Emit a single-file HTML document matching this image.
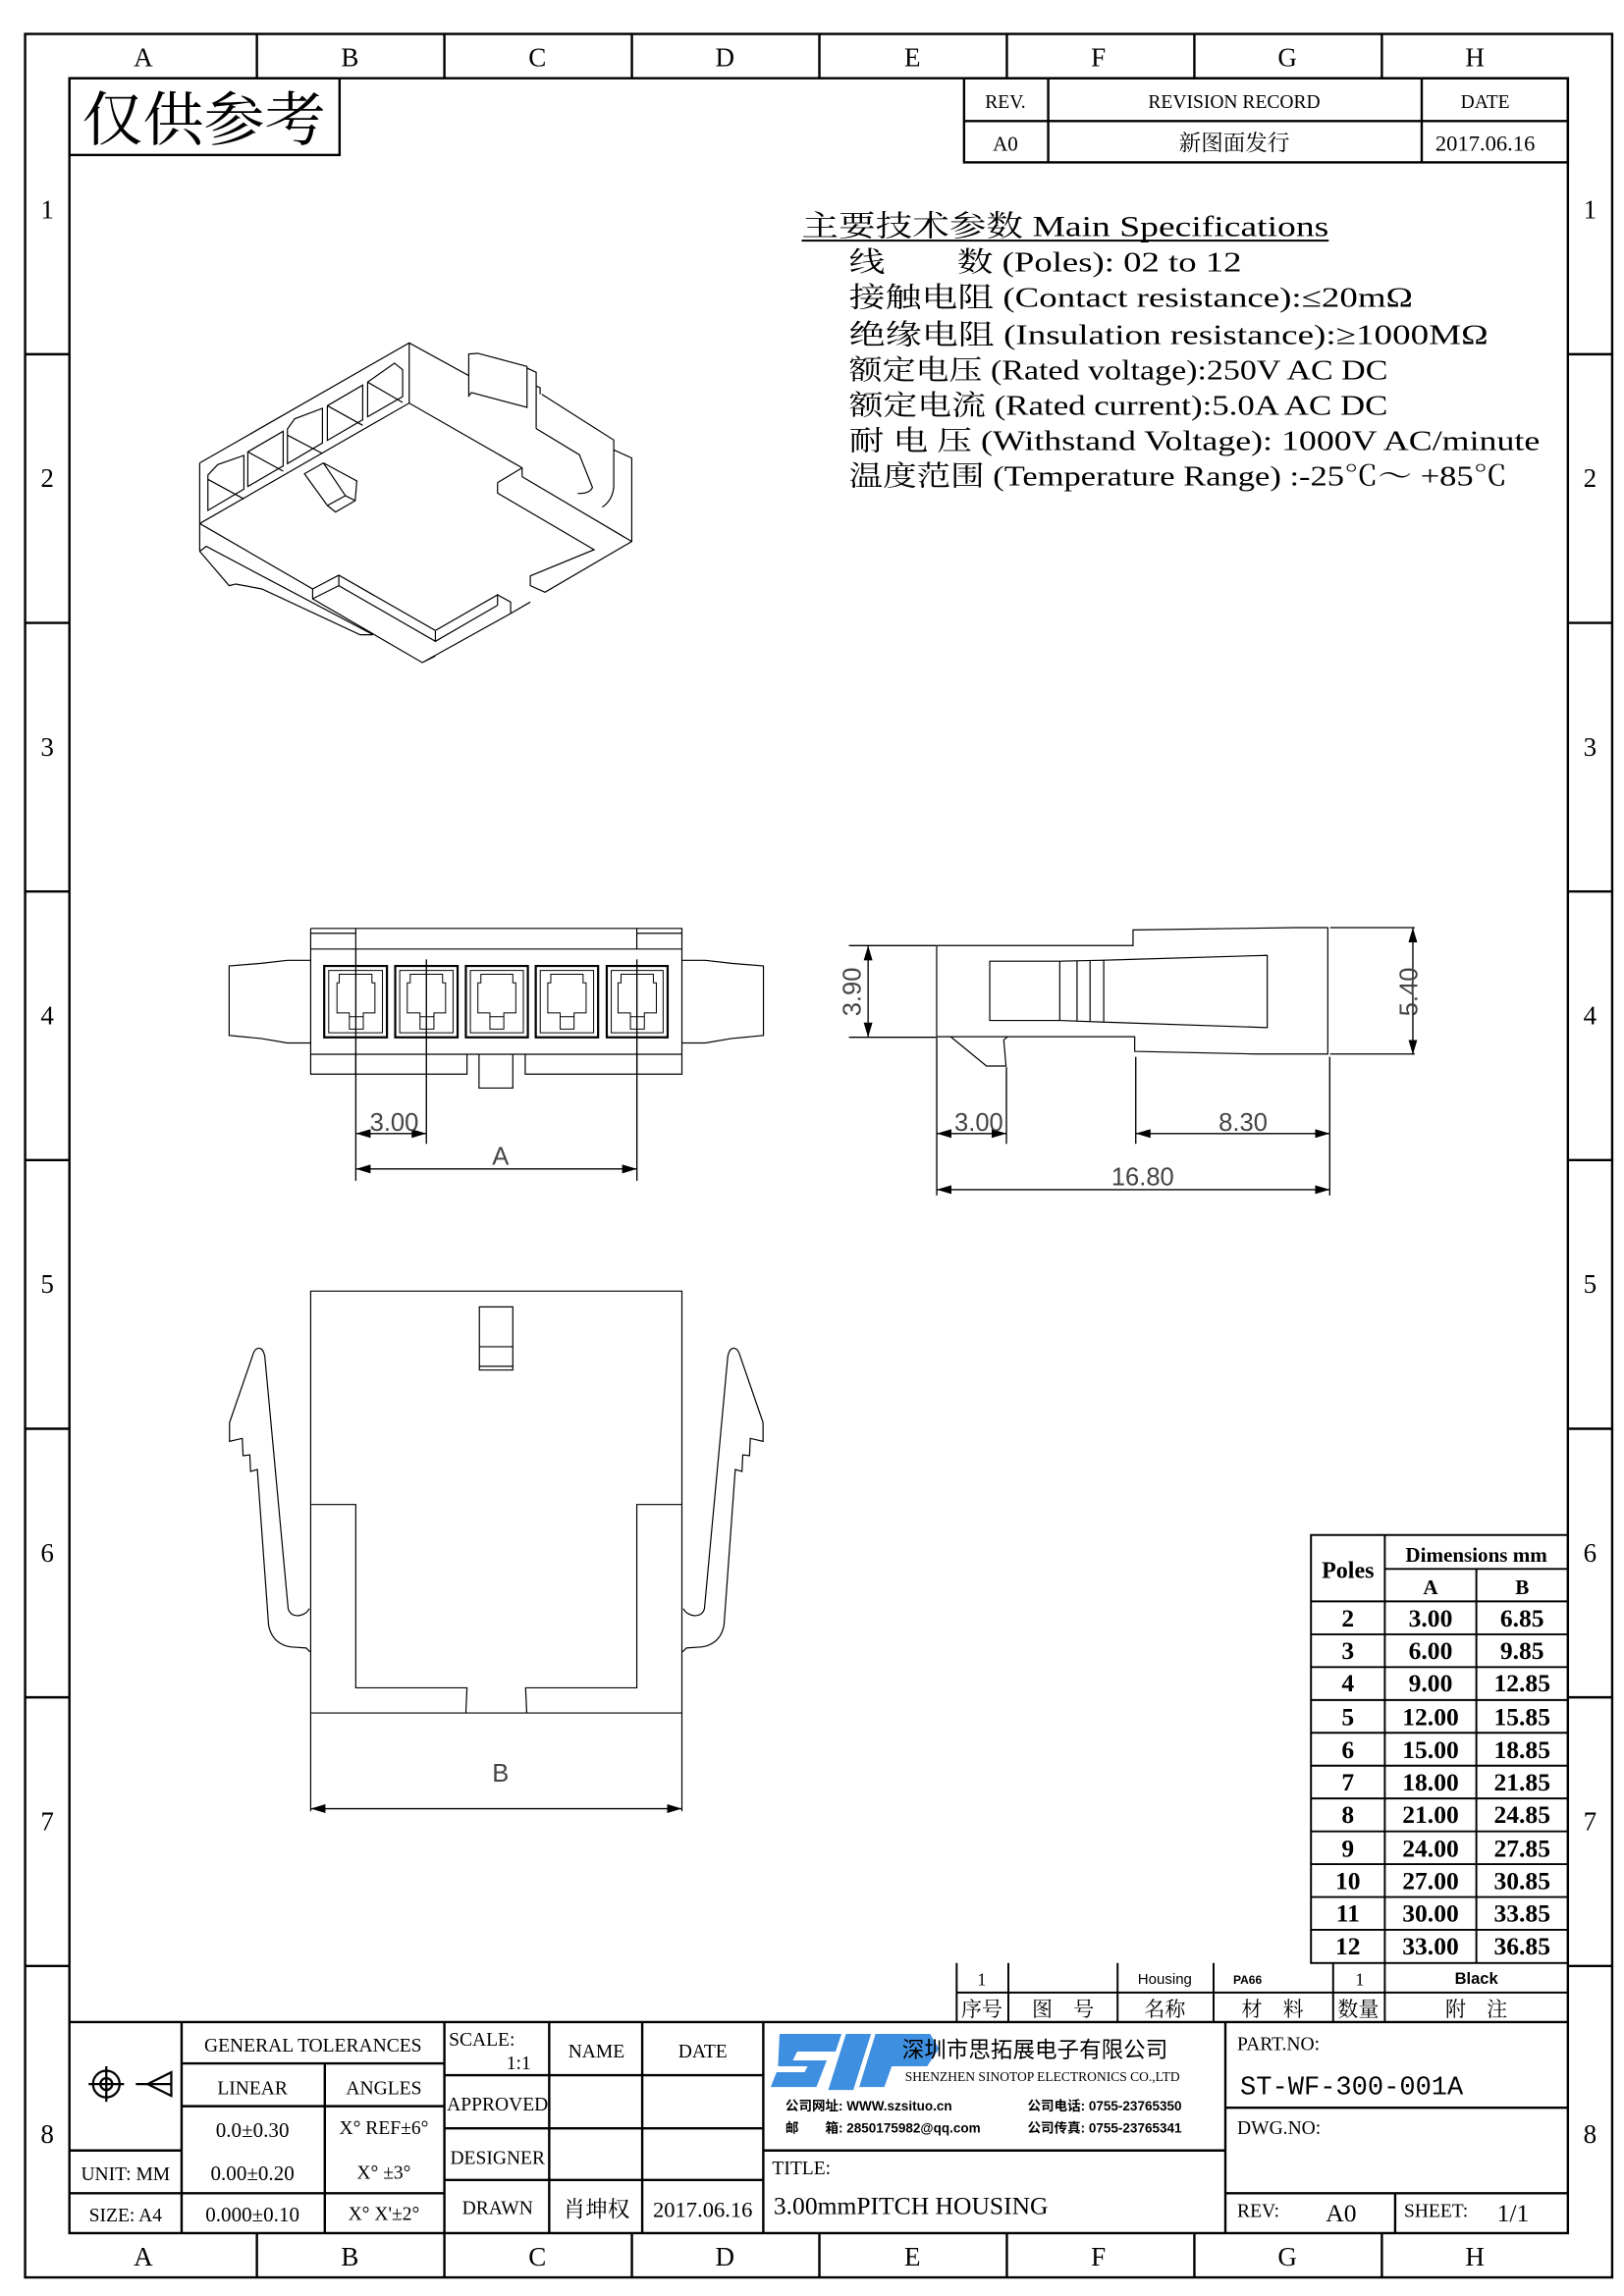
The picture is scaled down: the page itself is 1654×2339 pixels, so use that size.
<!DOCTYPE html>
<html><head><meta charset="utf-8"><style>
html,body{margin:0;padding:0;background:#fff}
svg{display:block}
text{font-family:"Liberation Serif","Noto Serif CJK SC","Noto Sans CJK SC",serif;fill:#000}
.s{font-family:"Liberation Sans","Noto Sans CJK SC",sans-serif}
.m{font-family:"Liberation Mono","Noto Sans CJK SC",monospace}
.d{font-family:"Liberation Sans",sans-serif;fill:#444;font-size:17px}
</style></head><body>
<svg xmlns="http://www.w3.org/2000/svg" width="1654" height="2339" viewBox="0 0 1100 1555.6">
<defs>
<marker id="ae" viewBox="0 0 10 6" refX="10" refY="3" markerWidth="10" markerHeight="6" markerUnits="userSpaceOnUse" orient="auto"><path d="M0,0 L10,3 L0,6 Z" fill="#000"/></marker>
<marker id="as" viewBox="0 0 10 6" refX="0" refY="3" markerWidth="10" markerHeight="6" markerUnits="userSpaceOnUse" orient="auto"><path d="M10,0 L0,3 L10,6 Z" fill="#000"/></marker>
</defs>
<rect width="1100" height="1556" fill="#fff"/>
<g fill="none" stroke="#000" stroke-width="1.6">
<rect x="17" y="23" width="1075" height="1520"/>
<rect x="47" y="53" width="1015" height="1460"/>
<path d="M174,23V53M301,23V53M428,23V53M555,23V53M682,23V53M809,23V53M936,23V53
M174,1513V1543M301,1513V1543M428,1513V1543M555,1513V1543M682,1513V1543M809,1513V1543M936,1513V1543
M17,240H47M17,422H47M17,604H47M17,786H47M17,968H47M17,1150H47M17,1332H47
M1062,240H1092M1062,422H1092M1062,604H1092M1062,786H1092M1062,968H1092M1062,1150H1092M1062,1332H1092"/>
<rect x="47" y="53" width="183" height="52"/>
<rect x="653" y="53" width="409" height="57"/>
<path d="M653,82H1062M710,53V110M963,53V110"/>
</g>
<g class="s" font-size="18" text-anchor="middle">
<text x="97" y="45">A</text><text x="237" y="45">B</text><text x="364" y="45">C</text><text x="491" y="45">D</text><text x="618" y="45">E</text><text x="744" y="45">F</text><text x="872" y="45">G</text><text x="999" y="45">H</text>
<text x="97" y="1535">A</text><text x="237" y="1535">B</text><text x="364" y="1535">C</text><text x="491" y="1535">D</text><text x="618" y="1535">E</text><text x="744" y="1535">F</text><text x="872" y="1535">G</text><text x="999" y="1535">H</text>
<text x="32" y="148">1</text><text x="32" y="330">2</text><text x="32" y="512">3</text><text x="32" y="694">4</text><text x="32" y="876">5</text><text x="32" y="1058">6</text><text x="32" y="1240">7</text><text x="32" y="1452">8</text>
<text x="1077" y="148">1</text><text x="1077" y="330">2</text><text x="1077" y="512">3</text><text x="1077" y="694">4</text><text x="1077" y="876">5</text><text x="1077" y="1058">6</text><text x="1077" y="1240">7</text><text x="1077" y="1452">8</text>
</g>
<text x="138" y="95" font-size="40" text-anchor="middle" textLength="165" lengthAdjust="spacingAndGlyphs">仅供参考</text>
<g font-size="13" text-anchor="middle">
<text x="681" y="73">REV.</text><text x="836" y="73">REVISION RECORD</text><text x="1006" y="73">DATE</text>
<text x="681" y="102" font-size="14">A0</text><text x="836" y="102" font-size="15">新图面发行</text><text x="1006" y="102" font-size="15">2017.06.16</text>
</g>
<g font-size="19">
<text x="543" y="160" font-size="20" textLength="357" lengthAdjust="spacingAndGlyphs">主要技术参数 Main Specifications</text>
<line x1="543" y1="163" x2="900" y2="163" stroke="#000" stroke-width="1.3"/>
<text x="575" y="184" textLength="266" lengthAdjust="spacingAndGlyphs">线　　数 (Poles): 02 to 12</text>
<text x="575" y="208" textLength="382" lengthAdjust="spacingAndGlyphs">接触电阻 (Contact resistance):≤20mΩ</text>
<text x="575" y="233" textLength="433" lengthAdjust="spacingAndGlyphs">绝缘电阻 (Insulation resistance):≥1000MΩ</text>
<text x="575" y="257" textLength="365" lengthAdjust="spacingAndGlyphs">额定电压 (Rated voltage):250V AC DC</text>
<text x="575" y="281" textLength="365" lengthAdjust="spacingAndGlyphs">额定电流 (Rated current):5.0A AC DC</text>
<text x="575" y="305" textLength="468" lengthAdjust="spacingAndGlyphs">耐 电 压 (Withstand Voltage): 1000V AC/minute</text>
<text x="575" y="329" textLength="446" lengthAdjust="spacingAndGlyphs">温度范围 (Temperature Range) :-25℃～ +85℃</text>
</g>
<g transform="translate(126.4,226.1) scale(0.2217)" fill="none" stroke="#000">
<path vector-effect="non-scaling-stroke" stroke-width="1.2" d="M40,395 L680,28 L862,128 M680,28 V212 M40,395 V665 M40,580 L680,212 L1025,410 V437 M950,455 L1025,410 M950,455 V487 L1245,660 L1050,740 V770 L1095,790 L1360,635 V380 L1305,355 M1025,437 L1360,635
M1085,185 L1305,325 V470 Q1300,510 1270,530 M1068,290 L1200,370 L1240,470 Q1230,490 1195,488
M40,580 L385,780 V810 L720,1005 L990,855 V820 L950,798 L760,907 L465,738 L385,780 M465,738 V770 L760,940 V907 M760,940 L950,830 M990,820 L950,798 V830 M465,770 L385,810 M990,855 L1050,820 M720,1005 L760,985
M40,665 L60,650 L570,920 M40,665 L130,770 L150,765 L230,780 L530,920 L570,920"/>
<path vector-effect="non-scaling-stroke" stroke-width="1.2" d="M862,62 L890,60 L1040,100 V225 L870,180 L862,190 Z M1040,105 L1068,118 V290 M1068,160 L1080,165 V185"/>
<path vector-effect="non-scaling-stroke" stroke-width="1.2" d="M360,428 L418,395 L485,495 L430,525 Z M418,395 L520,450 L515,510 L455,545 L430,525 M485,495 L515,510"/>
<path vector-effect="non-scaling-stroke" stroke-width="1.2" d="M65,432 L95,400 L175,372 V475 L65,540 Z M65,445 L175,505
M187,361 L295,298 V404 L187,467 Z M187,361 L295,420
M308,291 L330,260 L415,228 V334 L308,397 Z M308,310 L415,366
M430,220 L538,157 V263 L430,326 Z M430,220 L538,280
M553,148 L635,90 L660,110 V192 L553,254 Z M553,148 L660,210"/>
</g>
<g transform="translate(146.3,625.2) scale(0.2545)" fill="none" stroke="#000">
<path vector-effect="non-scaling-stroke" stroke-width="1.2" d="M252,15 H1240 V403 H1120 M252,15 V403 H372 M252,70 H1240 M252,350 H1240 M372,15 V70 M1120,15 V70 M252,28 H372 M1120,28 H1240 M372,350 V403 H668 V350 M823,350 V403 H1120 V350 M700,350 V440 H790 V350
M252,100 H190 L120,108 L35,115 V300 L120,308 L190,320 H252 M1240,100 H1302 L1372,108 L1457,115 V300 L1372,308 L1302,320 H1240"/>
<g>
<rect x="288" y="115" width="167" height="190" stroke-width="2.2" vector-effect="non-scaling-stroke"/>
<rect x="477" y="115" width="166" height="190" stroke-width="2.2" vector-effect="non-scaling-stroke"/>
<rect x="665" y="115" width="165" height="190" stroke-width="2.2" vector-effect="non-scaling-stroke"/>
<rect x="851" y="115" width="166" height="190" stroke-width="2.2" vector-effect="non-scaling-stroke"/>
<rect x="1040" y="115" width="162" height="190" stroke-width="2.2" vector-effect="non-scaling-stroke"/>
</g>
<path vector-effect="non-scaling-stroke" stroke-width="1" d="
M300,127H443V293H300Z M328,137H415V160H423V240H392V283H355V240H322V160H328Z M355,250H392
M489,127H631V293H489Z M517,137H603V160H611V240H580V283H543V240H509V160H517Z M543,250H580
M677,127H818V293H677Z M705,137H790V160H798V240H766V283H729V240H697V160H705Z M729,250H766
M863,127H1005V293H863Z M891,137H977V160H985V240H953V283H916V240H883V160H891Z M916,250H953
M1052,127H1190V293H1052Z M1078,137H1164V160H1172V240H1140V283H1103V240H1070V160H1078Z M1103,250H1140"/>
</g>
<g fill="none" stroke="#000" stroke-width="0.9">
<path d="M241,643V800M288.8,650V775M431.4,650V800"/>
<line x1="241" y1="768" x2="288.8" y2="768" marker-start="url(#as)" marker-end="url(#ae)"/>
<line x1="241" y1="792" x2="431.4" y2="792" marker-start="url(#as)" marker-end="url(#ae)"/>
</g>
<text class="d" x="267" y="766" text-anchor="middle">3.00</text>
<text class="d" x="339" y="789" text-anchor="middle">A</text>
<g transform="translate(631.8,625.2) scale(0.2206)" fill="none" stroke="#000">
<path vector-effect="non-scaling-stroke" stroke-width="1.2" d="M12,70 H615 V22 L1110,15 H1213 V403 H990 L620,395 V350 H12 Z M175,118 H390 V300 H175 Z M390,118 L525,115 L1027,100 V322 L525,305 L390,300 M443,116 V303 M483,116 V304 M525,115 V305 M55,350 L165,440 H225 L218,360 L230,350 M1220,15 H1480 M1220,403 H1480"/>
</g>
<g fill="none" stroke="#000" stroke-width="0.9">
<path d="M634.5,703V810M681.7,723V775M769.3,716V775M900.7,716V810M575,640.7H634M575,702.8H634"/>
<line x1="588" y1="640.7" x2="588" y2="702.8" marker-start="url(#as)" marker-end="url(#ae)"/>
<line x1="957" y1="628.5" x2="957" y2="714.5" marker-start="url(#as)" marker-end="url(#ae)"/>
<line x1="634.5" y1="768" x2="681.7" y2="768" marker-start="url(#as)" marker-end="url(#ae)"/>
<line x1="769.3" y1="768" x2="900.7" y2="768" marker-start="url(#as)" marker-end="url(#ae)"/>
<line x1="634.5" y1="806" x2="900.7" y2="806" marker-start="url(#as)" marker-end="url(#ae)"/>
</g>
<text class="d" x="663" y="766" text-anchor="middle">3.00</text>
<text class="d" x="842" y="766" text-anchor="middle">8.30</text>
<text class="d" x="774" y="803" text-anchor="middle">16.80</text>
<text class="d" transform="translate(583,672) rotate(-90)" text-anchor="middle">3.90</text>
<text class="d" transform="translate(960,672) rotate(-90)" text-anchor="middle">5.40</text>
<g transform="translate(146.3,864.6) scale(0.2545)" fill="none" stroke="#000">
<path vector-effect="non-scaling-stroke" stroke-width="1.2" d="M252,40 H1240 V1163 H252 Z M701,82 H790 V250 H701 Z M701,188 H790 M701,240 H790
M252,608 H372 V1096 H668 L665,1163 M827,1163 L824,1096 H1120 V608 H1240
M248,885 C240,905 200,915 192,885 L130,215 C125,185 105,185 98,210 L36,390 V440 L70,432 L72,478 L90,476 L92,520 L110,515 L140,930 C150,980 190,988 210,988 L240,990 L250,1000
M1244,885 C1252,905 1292,915 1300,885 L1362,215 C1367,185 1387,185 1394,210 L1456,390 V440 L1422,432 L1420,478 L1402,476 L1400,520 L1382,515 L1352,930 C1342,980 1302,988 1282,988 L1252,990 L1242,1000
M252,1163 V1425 M1240,1163 V1425"/>
</g>
<line x1="210.4" y1="1225.4" x2="461.9" y2="1225.4" stroke="#000" stroke-width="0.9" marker-start="url(#as)" marker-end="url(#ae)"/>
<text class="d" x="339" y="1207" text-anchor="middle" font-family="Liberation Serif">B</text>
<g fill="none" stroke="#000" stroke-width="1.3">
<rect x="888" y="1040" width="174" height="290"/>
<path d="M938,1040V1330M1000,1063V1330M938,1063H1062M888,1085H1062"/>
<path d="M888,1107.3H1062M888,1129.5H1062M888,1151.8H1062M888,1174H1062M888,1196.3H1062M888,1218.5H1062M888,1240.8H1062M888,1263H1062M888,1285.3H1062M888,1307.5H1062"/>
<path d="M648,1330V1370M648,1350H1062M683,1330V1370M757,1330V1370M822,1330V1370M903,1330V1370M938,1330V1370"/>
</g>
<g class="s" font-weight="bold" font-size="16" text-anchor="middle">
<text x="913" y="1069">Poles</text>
<text x="1000" y="1058" font-size="14">Dimensions mm</text>
<text x="969" y="1080" font-size="14">A</text><text x="1031" y="1080" font-size="14">B</text>
</g>
<g class="s" font-weight="bold" font-size="17" text-anchor="middle">
<text x="913" y="1102">2</text><text x="969" y="1102">3.00</text><text x="1031" y="1102">6.85</text>
<text x="913" y="1124">3</text><text x="969" y="1124">6.00</text><text x="1031" y="1124">9.85</text>
<text x="913" y="1146">4</text><text x="969" y="1146">9.00</text><text x="1031" y="1146">12.85</text>
<text x="913" y="1169">5</text><text x="969" y="1169">12.00</text><text x="1031" y="1169">15.85</text>
<text x="913" y="1191">6</text><text x="969" y="1191">15.00</text><text x="1031" y="1191">18.85</text>
<text x="913" y="1213">7</text><text x="969" y="1213">18.00</text><text x="1031" y="1213">21.85</text>
<text x="913" y="1235">8</text><text x="969" y="1235">21.00</text><text x="1031" y="1235">24.85</text>
<text x="913" y="1258">9</text><text x="969" y="1258">24.00</text><text x="1031" y="1258">27.85</text>
<text x="913" y="1280">10</text><text x="969" y="1280">27.00</text><text x="1031" y="1280">30.85</text>
<text x="913" y="1302">11</text><text x="969" y="1302">30.00</text><text x="1031" y="1302">33.85</text>
<text x="913" y="1324">12</text><text x="969" y="1324">33.00</text><text x="1031" y="1324">36.85</text>
</g>
<g font-size="12" text-anchor="middle">
<text x="665" y="1345">1</text>
<text x="789" y="1344" class="s" font-size="10">Housing</text>
<text x="845" y="1344" class="s" font-size="8" font-weight="bold">PA66</text>
<text x="921" y="1345">1</text>
<text x="1000" y="1344" class="s" font-size="11" font-weight="bold">Black</text>
<text x="665" y="1366" font-size="14">序号</text>
<text x="720" y="1366" font-size="14">图　号</text>
<text x="789" y="1366" font-size="14">名称</text>
<text x="862" y="1366" font-size="14">材　料</text>
<text x="920" y="1366" font-size="14">数量</text>
<text x="1000" y="1366" font-size="14">附　注</text>
</g>
<g fill="none" stroke="#000" stroke-width="1.6">
<path d="M47,1370H1062M47,1457H123M123,1398H301M123,1427H301M47,1486H301M220,1398V1513M123,1370V1513M301,1370V1513M301,1406H517M301,1442H517M301,1477H517M372,1370V1513M435,1370V1513M517,1370V1513M517,1457H830M830,1370V1513M830,1428H1062M830,1486H1062M945,1486V1513"/>
</g>
<g fill="none" stroke="#000" stroke-width="1.5">
<circle cx="72" cy="1412" r="9"/><circle cx="72" cy="1412" r="4"/><path d="M60,1412H84M72,1400V1424M92,1412H116M100,1412L116,1404V1420Z"/>
</g>
<g font-size="13" text-anchor="middle">
<text x="212" y="1390">GENERAL TOLERANCES</text>
<text x="171" y="1419">LINEAR</text><text x="260" y="1419">ANGLES</text>
<text x="171" y="1448" font-size="14">0.0±0.30</text><text x="260" y="1446">X° REF±6°</text>
<text x="85" y="1477">UNIT: MM</text><text x="171" y="1477" font-size="14">0.00±0.20</text><text x="260" y="1476">X° ±3°</text>
<text x="85" y="1505">SIZE: A4</text><text x="171" y="1505" font-size="14">0.000±0.10</text><text x="260" y="1504">X° X'±2°</text>
<text x="404" y="1394">NAME</text><text x="476" y="1394">DATE</text>
<text x="337" y="1430">APPROVED</text><text x="337" y="1466">DESIGNER</text><text x="337" y="1500">DRAWN</text>
<text x="404" y="1502" font-size="15">肖坤权</text><text x="476" y="1502" font-size="15">2017.06.16</text>
</g>
<text x="304" y="1386" font-size="13">SCALE:</text><text x="343" y="1402" font-size="13">1:1</text>
<path d="M528,1378 H570 L566,1390 H540 L537,1396 H560 L553,1414 H522 L526,1404 H545 L547,1400 H527 Z M573,1378 H590 L578,1416 H561 Z M593,1378 H630 L636,1388 L628,1400 H604 L599,1414 H582 Z" fill="#3f8fe0"/>
<text x="611" y="1394" class="s" font-size="15">深圳市思拓展电子有限公司</text>
<text x="613" y="1410" font-size="9">SHENZHEN SINOTOP ELECTRONICS CO.,LTD</text>
<text x="532" y="1430" class="s" font-size="9" font-weight="bold">公司网址: WWW.szsituo.cn</text>
<text x="532" y="1445" class="s" font-size="9" font-weight="bold">邮　　箱: 2850175982@qq.com</text>
<text x="696" y="1430" class="s" font-size="9" font-weight="bold">公司电话: 0755-23765350</text>
<text x="696" y="1445" class="s" font-size="9" font-weight="bold">公司传真: 0755-23765341</text>
<text x="523" y="1473" font-size="13">TITLE:</text>
<text x="524" y="1500" font-size="17">3.00mmPITCH HOUSING</text>
<text x="838" y="1389" font-size="13">PART.NO:</text>
<text x="840" y="1419" class="m" font-size="18">ST-WF-300-001A</text>
<text x="838" y="1446" font-size="13">DWG.NO:</text>
<text x="838" y="1502" font-size="13">REV:</text><text x="898" y="1505" font-size="17">A0</text>
<text x="951" y="1502" font-size="13">SHEET:</text><text x="1014" y="1505" font-size="17">1/1</text>
</svg>
</body></html>
